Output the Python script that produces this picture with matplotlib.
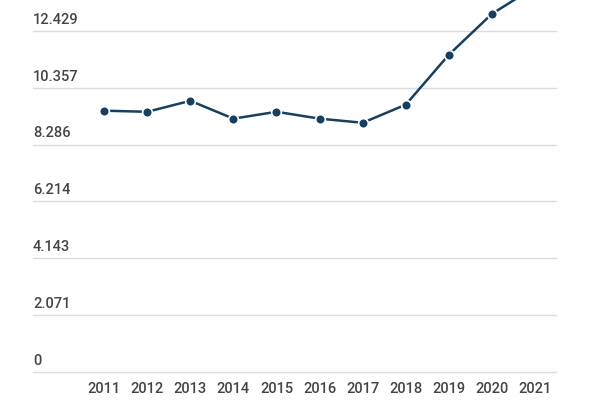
import matplotlib
matplotlib.use("Agg")
import matplotlib.pyplot as plt
import matplotlib.transforms as mtransforms

years = [2011, 2012, 2013, 2014, 2015, 2016, 2017, 2018, 2019, 2020, 2021]
values = [9.52, 9.48, 9.88, 9.23, 9.48, 9.23, 9.08, 9.74, 11.56, 13.05, 14.03]

ytick_vals = [0, 2.0714, 4.1429, 6.2143, 8.2857, 10.3571, 12.4286]
ytick_labels = ["0", "2.071", "4.143", "6.214", "8.286", "10.357", "12.429"]

plt.rcParams['font.family'] = ['Roboto', 'DejaVu Sans']

fig = plt.figure(figsize=(6, 4), dpi=100)
# axes runs past the top edge: the source image is cropped there
ax = fig.add_axes([0.055, 0.07, 0.872, 0.995])

line_color = '#173f5f'
ax.plot(years, values, color=line_color, linewidth=1.8, marker='o', markersize=7,
        markerfacecolor=line_color, markeredgecolor='white', markeredgewidth=1.2,
        clip_on=False, zorder=3)

ax.set_xlim(2009.35, 2021.49)
ax.set_ylim(0, 14.5)

ax.set_yticks(ytick_vals)
ax.set_yticklabels([])
ax.tick_params(axis='y', length=0)
ax.grid(axis='y', color='#dcdcdc', linewidth=1)
ax.set_axisbelow(True)
for gl in ax.get_ygridlines():
    gl.set_clip_on(False)

trans = mtransforms.blended_transform_factory(ax.transAxes, ax.transData)
offset = mtransforms.ScaledTranslation(0, 3 / 72, fig.dpi_scale_trans)
for v, lab in zip(ytick_vals, ytick_labels):
    ax.text(0, v, lab, transform=trans + offset, ha='left', va='bottom',
            fontsize=10.5, fontweight='medium', color='#444444')

ax.set_xticks(years)
ax.set_xticklabels([str(y) for y in years], fontsize=10.5, fontweight='medium',
                   color='#444444')
ax.tick_params(axis='x', length=0, pad=7)

for s in ax.spines.values():
    s.set_visible(False)

fig.savefig('out.png', dpi=100)
